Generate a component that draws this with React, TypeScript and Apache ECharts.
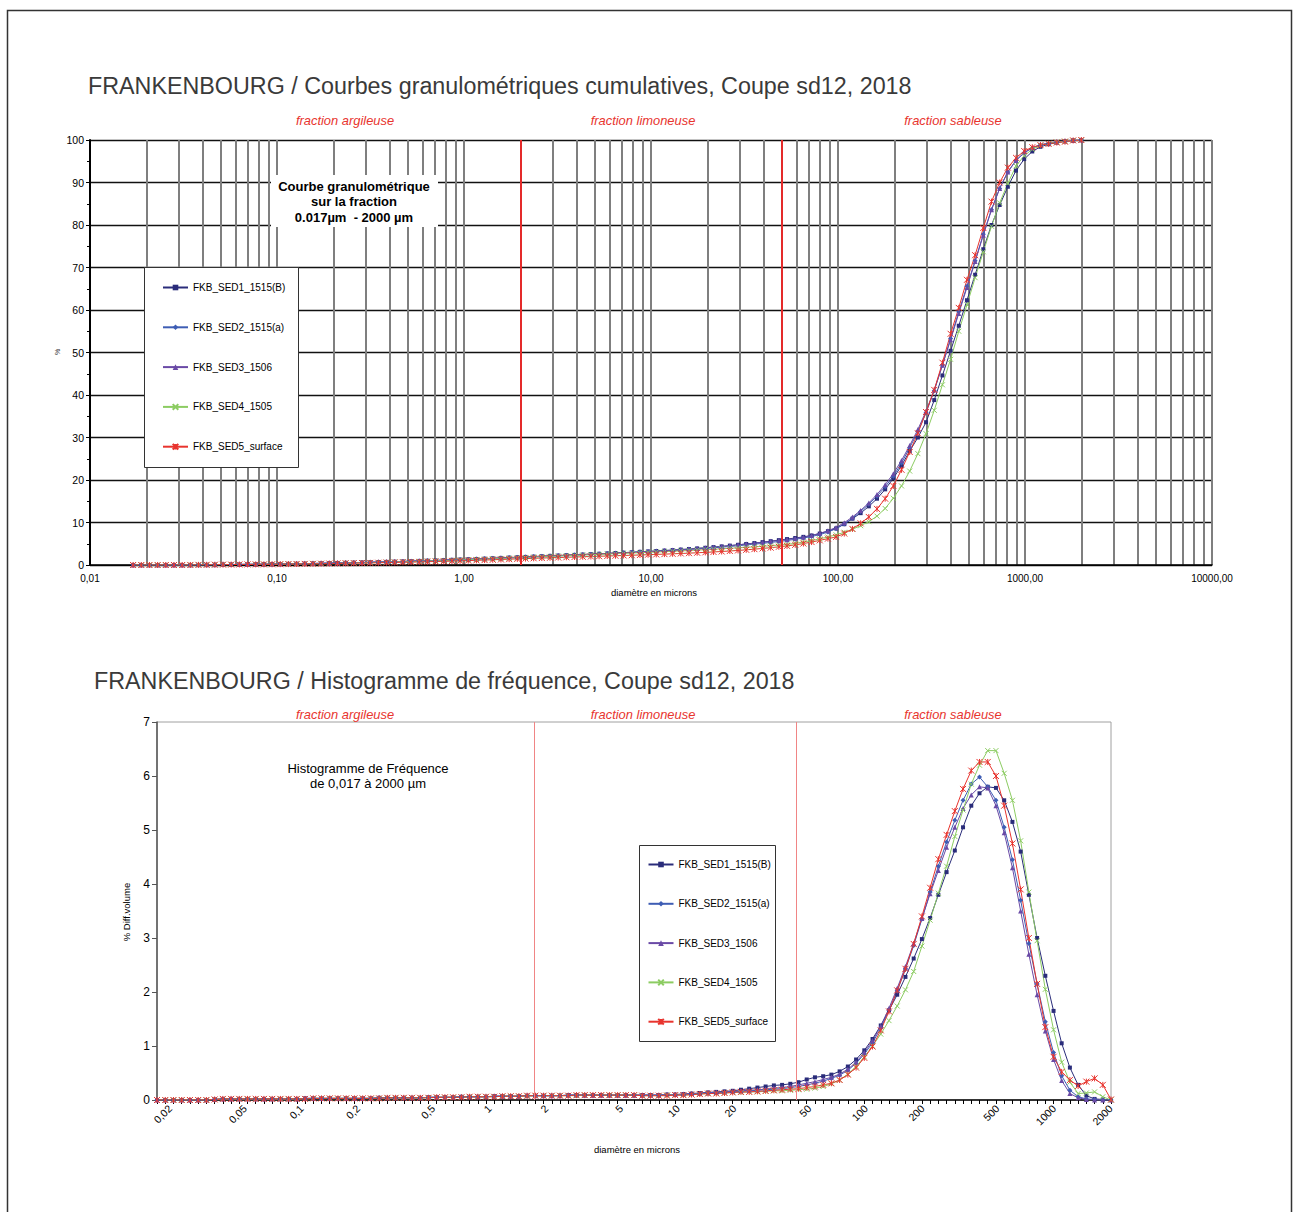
import React, { useEffect, useRef } from 'react';
import * as echarts from 'echarts';

const FONT = '"Liberation Sans", Arial, Helvetica, sans-serif';

const NAMES = ['FKB_SED1_1515(B)', 'FKB_SED2_1515(a)', 'FKB_SED3_1506', 'FKB_SED4_1505', 'FKB_SED5_surface'];
const COLORS = ['#2a2c7a', '#3e5db4', '#6a4aa6', '#8ccc62', '#e8342e'];

// particle-size classes (µm)
const BINS = [0.017, 0.0188, 0.02079, 0.023, 0.02543, 0.02812, 0.0311, 0.0344, 0.03804, 0.04207, 0.04652, 0.05145, 0.05689, 0.06292, 0.06958, 0.07695, 0.08511, 0.09409, 0.10406, 0.11508, 0.12728, 0.14076, 0.15567, 0.17216, 0.1904, 0.21057, 0.23287, 0.25754, 0.28483, 0.315, 0.34837, 0.38527, 0.42609, 0.47123, 0.52115, 0.57636, 0.63742, 0.70494, 0.77963, 0.86222, 0.95268, 1.0535, 1.1651, 1.2886, 1.4251, 1.5761, 1.7431, 1.9277, 2.132, 2.3578, 2.6076, 2.8839, 3.1894, 3.5273, 3.901, 4.3142, 4.7712, 5.2767, 5.8357, 6.454, 7.1378, 7.894, 8.7302, 9.6455, 10.667, 11.798, 13.048, 14.43, 15.959, 17.65, 19.52, 21.588, 23.876, 26.405, 29.202, 32.296, 35.718, 39.502, 43.652, 48.277, 53.392, 59.048, 65.305, 72.224, 79.876, 88.339, 97.68, 108.03, 119.48, 132.14, 146.14, 161.62, 178.75, 197.68, 218.63, 241.79, 267.41, 295.74, 327.08, 361.73, 400.05, 442.44, 489.32, 541.16, 598.5, 661.91, 732.04, 809.6, 895.38, 990.25, 1093.6, 1209.5, 1337.6, 1479.4, 1636.1, 1809.5, 2000];

// cumulative % (top chart)
const CUM_SED1 = [0, 0, 0, 0, 0, 0, 0, 0.01,
  0.03, 0.05, 0.07, 0.09, 0.11, 0.13, 0.15, 0.17, 0.19,
  0.21, 0.24, 0.27, 0.30, 0.33, 0.36, 0.40, 0.44,
  0.48, 0.52, 0.56, 0.60, 0.64, 0.69, 0.74, 0.79,
  0.84, 0.90, 0.96, 1.02, 1.08, 1.14, 1.21, 1.28,
  1.35, 1.42, 1.50, 1.58, 1.66, 1.74, 1.82, 1.90,
  1.98, 2.06, 2.14, 2.22, 2.30, 2.38, 2.46, 2.55,
  2.64, 2.73, 2.82, 2.91, 3.00, 3.09, 3.19,
  3.29, 3.40, 3.51, 3.63, 3.76, 3.90, 4.05,
  4.21, 4.38, 4.56, 4.75, 4.95, 5.16, 5.38, 5.61, 5.85, 6.10, 6.35,
  6.62, 6.95, 7.40, 7.95, 8.60, 9.60, 10.9, 12.2, 13.8, 15.6, 17.8, 20.4, 23.4, 26.8, 30.0, 33.6, 38.8, 44.6, 50.4, 56.3, 62.3, 68.3, 74.3, 80.0, 84.7, 89.0, 92.8, 95.5, 97.3, 98.4, 99.0, 99.4, 99.7, 99.9, 100];
const CUM_SED2 = [0, 0, 0, 0, 0, 0, 0, 0.01,
  0.03, 0.05, 0.07, 0.09, 0.11, 0.13, 0.14, 0.16, 0.18,
  0.20, 0.23, 0.26, 0.29, 0.32, 0.35, 0.39, 0.43,
  0.47, 0.51, 0.55, 0.59, 0.63, 0.68, 0.73, 0.78,
  0.83, 0.88, 0.94, 1.00, 1.06, 1.12, 1.18, 1.25,
  1.32, 1.39, 1.46, 1.54, 1.62, 1.70, 1.78, 1.86,
  1.94, 2.02, 2.10, 2.18, 2.26, 2.34, 2.42, 2.50,
  2.58, 2.67, 2.76, 2.85, 2.94, 3.03, 3.12,
  3.22, 3.32, 3.43, 3.54, 3.66, 3.78, 3.91,
  4.05, 4.20, 4.36, 4.53, 4.71, 4.90, 5.10, 5.31, 5.53, 5.78, 6.05,
  6.35, 6.70, 7.15, 7.75, 8.55, 9.65, 11.0, 12.6, 14.3, 16.2, 18.4, 20.9, 24.0, 27.6, 31.4, 35.8, 41.0, 47.0, 53.3, 59.6, 65.6, 71.6, 77.8, 83.6, 88.6, 92.5, 95.2, 97.0, 98.1, 98.8, 99.2, 99.5, 99.7, 99.9, 100];
const CUM_SED3 = [0, 0, 0, 0, 0, 0, 0, 0.01,
  0.03, 0.05, 0.07, 0.09, 0.11, 0.13, 0.15, 0.17, 0.19,
  0.21, 0.24, 0.27, 0.30, 0.33, 0.36, 0.40, 0.44,
  0.48, 0.52, 0.56, 0.60, 0.64, 0.69, 0.74, 0.79,
  0.84, 0.90, 0.96, 1.02, 1.08, 1.14, 1.21, 1.28,
  1.35, 1.42, 1.50, 1.58, 1.66, 1.74, 1.82, 1.90,
  1.98, 2.06, 2.14, 2.22, 2.30, 2.38, 2.46, 2.55,
  2.64, 2.73, 2.82, 2.91, 3.00, 3.09, 3.19,
  3.29, 3.40, 3.51, 3.63, 3.76, 3.90, 4.05,
  4.20, 4.37, 4.55, 4.74, 4.93, 5.13, 5.34, 5.56, 5.79, 6.00, 6.25,
  6.55, 6.95, 7.45, 8.05, 8.85, 9.95, 11.3, 12.85, 14.6, 16.6, 18.9, 21.5, 24.6, 28.1, 31.9, 36.2, 41.2, 47.0, 53.0, 59.2, 65.3, 71.4, 77.6, 83.6, 88.6, 92.5, 95.2, 97.0, 98.2, 98.9, 99.3, 99.6, 99.8, 99.9, 100];
const CUM_SED4 = [0, 0, 0, 0, 0, 0, 0, 0.01,
  0.03, 0.05, 0.07, 0.09, 0.10, 0.12, 0.13, 0.15, 0.16,
  0.18, 0.20, 0.23, 0.25, 0.28, 0.31, 0.34, 0.37,
  0.40, 0.44, 0.48, 0.52, 0.56, 0.60, 0.65, 0.70,
  0.75, 0.80, 0.86, 0.92, 0.98, 1.04, 1.10, 1.17,
  1.24, 1.31, 1.38, 1.45, 1.53, 1.61, 1.69, 1.77,
  1.85, 1.93, 2.01, 2.09, 2.17, 2.25, 2.33, 2.41,
  2.49, 2.57, 2.65, 2.73, 2.81, 2.89, 2.97,
  3.05, 3.13, 3.22, 3.31, 3.40, 3.50, 3.60,
  3.70, 3.81, 3.92, 4.03, 4.15, 4.27, 4.40, 4.54, 4.69, 4.85, 5.10,
  5.40, 5.75, 6.15, 6.60, 7.10, 7.70, 8.40, 9.25, 10.2, 11.5, 13.3, 15.7, 18.6, 22.1, 26.2, 30.9, 36.4, 42.4, 48.4, 55.0, 61.2, 67.6, 73.7, 79.7, 85.2, 89.8, 93.9, 96.3, 97.8, 98.7, 99.2, 99.5, 99.7, 99.9, 100];
const CUM_SED5 = [0, 0, 0, 0, 0, 0, 0, 0.01,
  0.03, 0.05, 0.07, 0.09, 0.10, 0.12, 0.13, 0.14, 0.15,
  0.17, 0.19, 0.21, 0.23, 0.26, 0.28, 0.31, 0.34,
  0.37, 0.40, 0.43, 0.46, 0.49, 0.52, 0.56, 0.60,
  0.64, 0.68, 0.72, 0.77, 0.82, 0.87, 0.92, 0.98,
  1.04, 1.10, 1.16, 1.23, 1.30, 1.37, 1.44, 1.51,
  1.58, 1.64, 1.70, 1.76, 1.82, 1.88, 1.94, 2.00,
  2.06, 2.12, 2.18, 2.24, 2.30, 2.36, 2.42,
  2.49, 2.56, 2.63, 2.71, 2.79, 2.88, 2.97,
  3.07, 3.18, 3.30, 3.43, 3.57, 3.73, 3.90, 4.08, 4.28, 4.50, 4.75,
  5.05, 5.40, 5.80, 6.20, 6.60, 7.40, 8.50, 9.80, 11.3, 13.2, 15.6, 18.6, 22.4, 26.6, 31.0, 36.0, 41.2, 47.6, 54.4, 60.5, 67.1, 72.9, 79.3, 85.5, 90.0, 93.5, 95.8, 97.4, 98.3, 98.8, 99.1, 99.4, 99.6, 99.9, 100];

// differential volume % (bottom chart)
const FREQ_SED1 = [0, 0, 0, 0, 0, 0, 0, 0.01,
  0.02, 0.02, 0.02, 0.02, 0.02, 0.02, 0.02, 0.02, 0.02,
  0.02, 0.03, 0.03, 0.03, 0.03, 0.03, 0.03, 0.03,
  0.03, 0.03, 0.04, 0.04, 0.04, 0.04, 0.04, 0.04,
  0.05, 0.05, 0.05, 0.05, 0.06, 0.06, 0.06, 0.06,
  0.07, 0.07, 0.07, 0.07, 0.08, 0.08, 0.08, 0.08,
  0.08, 0.09, 0.09, 0.09, 0.09, 0.09, 0.09, 0.09,
  0.09, 0.09, 0.09, 0.09, 0.09, 0.10, 0.10,
  0.11, 0.12, 0.13, 0.14, 0.15, 0.16, 0.17,
  0.19, 0.21, 0.23, 0.25, 0.27, 0.28, 0.30, 0.33, 0.38, 0.42, 0.44,
  0.47, 0.53, 0.62, 0.75, 0.92, 1.13, 1.38, 1.66, 1.95, 2.28, 2.62, 2.98, 3.37, 3.80, 4.22, 4.62, 5.05, 5.45, 5.68, 5.80, 5.78, 5.55, 5.15, 4.60, 3.80, 3.00, 2.30, 1.65, 1.05, 0.60, 0.28, 0.08, 0.02, 0.01, 0];
const FREQ_SED2 = [0, 0, 0, 0, 0, 0, 0, 0.01,
  0.02, 0.02, 0.02, 0.02, 0.02, 0.02, 0.02, 0.02, 0.02,
  0.02, 0.03, 0.03, 0.03, 0.03, 0.03, 0.03, 0.03,
  0.03, 0.03, 0.04, 0.04, 0.04, 0.04, 0.04, 0.04,
  0.05, 0.05, 0.05, 0.05, 0.06, 0.06, 0.06, 0.06,
  0.07, 0.07, 0.07, 0.07, 0.08, 0.08, 0.08, 0.08,
  0.08, 0.09, 0.09, 0.09, 0.09, 0.09, 0.09, 0.09,
  0.09, 0.09, 0.09, 0.09, 0.09, 0.10, 0.10,
  0.10, 0.11, 0.12, 0.13, 0.14, 0.14, 0.15,
  0.16, 0.17, 0.18, 0.19, 0.20, 0.21, 0.23, 0.25, 0.28, 0.31, 0.35,
  0.40, 0.46, 0.55, 0.68, 0.85, 1.06, 1.33, 1.66, 2.02, 2.42, 2.86, 3.35, 3.85, 4.33, 4.78, 5.18, 5.55, 5.85, 5.98, 5.80, 5.55, 5.05, 4.45, 3.70, 2.90, 2.15, 1.45, 0.88, 0.45, 0.18, 0.06, 0.02, 0.01, 0, 0];
const FREQ_SED3 = [0, 0, 0, 0, 0, 0, 0, 0.01,
  0.02, 0.02, 0.02, 0.02, 0.02, 0.02, 0.02, 0.02, 0.02,
  0.02, 0.03, 0.03, 0.03, 0.03, 0.03, 0.03, 0.03,
  0.03, 0.03, 0.04, 0.04, 0.04, 0.04, 0.04, 0.04,
  0.05, 0.05, 0.05, 0.05, 0.06, 0.06, 0.06, 0.06,
  0.07, 0.07, 0.07, 0.07, 0.08, 0.08, 0.08, 0.08,
  0.08, 0.09, 0.09, 0.09, 0.09, 0.09, 0.09, 0.09,
  0.09, 0.09, 0.09, 0.09, 0.09, 0.10, 0.10,
  0.11, 0.12, 0.12, 0.13, 0.14, 0.15, 0.16,
  0.17, 0.18, 0.19, 0.20, 0.22, 0.23, 0.25, 0.28, 0.31, 0.34, 0.38,
  0.42, 0.48, 0.57, 0.70, 0.88, 1.10, 1.37, 1.70, 2.07, 2.47, 2.90, 3.36, 3.82, 4.25, 4.68, 5.05, 5.40, 5.65, 5.80, 5.78, 5.45, 4.95, 4.30, 3.50, 2.70, 1.95, 1.28, 0.75, 0.36, 0.12, 0.04, 0.01, 0, 0, 0];
const FREQ_SED4 = [0, 0, 0, 0, 0, 0, 0, 0.01,
  0.02, 0.02, 0.02, 0.02, 0.02, 0.02, 0.02, 0.02, 0.02,
  0.02, 0.02, 0.03, 0.03, 0.03, 0.03, 0.03, 0.03,
  0.03, 0.03, 0.03, 0.04, 0.04, 0.04, 0.04, 0.04,
  0.04, 0.05, 0.05, 0.05, 0.05, 0.06, 0.06, 0.06,
  0.06, 0.07, 0.07, 0.07, 0.07, 0.08, 0.08, 0.08,
  0.08, 0.08, 0.08, 0.09, 0.09, 0.09, 0.09, 0.09,
  0.09, 0.09, 0.08, 0.08, 0.08, 0.09, 0.09,
  0.09, 0.10, 0.11, 0.12, 0.12, 0.13, 0.14,
  0.14, 0.15, 0.15, 0.16, 0.17, 0.17, 0.18, 0.19, 0.20, 0.22, 0.25,
  0.30, 0.37, 0.48, 0.62, 0.80, 1.00, 1.22, 1.47, 1.74, 2.04, 2.38, 2.85, 3.33, 3.83, 4.33, 4.88, 5.37, 5.85, 6.20, 6.47, 6.47, 6.05, 5.55, 4.80, 3.85, 2.95, 2.05, 1.30, 0.70, 0.33, 0.12, 0.13, 0.15, 0.06, 0];
const FREQ_SED5 = [0, 0, 0, 0, 0, 0, 0, 0.01,
  0.02, 0.02, 0.02, 0.02, 0.02, 0.02, 0.02, 0.02, 0.02,
  0.02, 0.02, 0.03, 0.03, 0.03, 0.03, 0.03, 0.03,
  0.03, 0.03, 0.03, 0.04, 0.04, 0.04, 0.04, 0.04,
  0.04, 0.05, 0.05, 0.05, 0.05, 0.06, 0.06, 0.06,
  0.06, 0.07, 0.07, 0.07, 0.08, 0.08, 0.08, 0.08,
  0.08, 0.08, 0.09, 0.09, 0.09, 0.09, 0.09, 0.09,
  0.09, 0.09, 0.08, 0.08, 0.08, 0.08, 0.09,
  0.09, 0.10, 0.11, 0.12, 0.12, 0.13, 0.14,
  0.15, 0.15, 0.16, 0.17, 0.18, 0.19, 0.20, 0.21, 0.23, 0.25, 0.28,
  0.31, 0.37, 0.47, 0.60, 0.78, 0.99, 1.29, 1.64, 2.03, 2.43, 2.89, 3.40, 3.93, 4.46, 4.91, 5.35, 5.76, 6.10, 6.26, 6.26, 6.00, 5.45, 4.75, 3.90, 3.00, 2.15, 1.35, 0.80, 0.52, 0.37, 0.26, 0.34, 0.40, 0.28, 0.01];

const CUMS = [CUM_SED1, CUM_SED2, CUM_SED3, CUM_SED4, CUM_SED5];
const FREQS = [FREQ_SED1, FREQ_SED2, FREQ_SED3, FREQ_SED4, FREQ_SED5];

const TOP_X_LABELS = [0.01, 0.1, 1, 10, 100, 1000, 10000];
const BOTTOM_X_LABELS = [0.02, 0.05, 0.1, 0.2, 0.5, 1, 2, 5, 10, 20, 50, 100, 200, 500, 1000, 2000];
const FRACTION_LABELS = ['fraction argileuse', 'fraction limoneuse', 'fraction sableuse'];
const TOP_LIMITS = [2, 50];
const BOTTOM_LIMITS = [1.72, 42.5];

const SYMBOLS = ['rect', 'diamond', 'triangle', 'path://M0,0L10,10M10,0L0,10', 'path://M0,0L10,10M10,0L0,10M5,0L5,10'];
const SYMBOL_SIZES = [4, 5, 5, 5, 6];

function pairs(xs: number[], ys: number[]) {
  const n = Math.min(xs.length, ys.length);
  const out: number[][] = [];
  for (let i = 0; i < n; i++) out.push([xs[i], ys[i]]);
  return out;
}

export default function App() {
  const ref = useRef<HTMLDivElement>(null);
  useEffect(() => {
    if (!ref.current) return;
    const chart = echarts.init(ref.current, null, { renderer: 'svg' });

    const gridX: number[] = [];
    for (let e = -2; e <= 3; e++) for (let m = 1; m <= 9; m++) gridX.push(+(m * Math.pow(10, e)).toPrecision(2));
    gridX.push(10000);

    const makeSeries = (k: number, top: boolean) => {
      const isX = k >= 3;
      return {
        type: 'line',
        name: NAMES[k],
        xAxisIndex: top ? 0 : 1,
        yAxisIndex: top ? 0 : 1,
        data: pairs(BINS, top ? CUMS[k] : FREQS[k]),
        symbol: SYMBOLS[k],
        symbolSize: SYMBOL_SIZES[k],
        showSymbol: true,
        showAllSymbol: true,
        lineStyle: { color: COLORS[k], width: 1 },
        itemStyle: { color: COLORS[k], borderColor: COLORS[k], borderWidth: isX ? 1 : 0 },
        emphasis: { disabled: true },
        silent: true,
        animation: false,
      } as any;
    };
    const series: any[] = [];
    for (let k = 0; k < 5; k++) series.push(makeSeries(k, true));
    for (let k = 0; k < 5; k++) series.push(makeSeries(k, false));
    series[4].markLine = {
      silent: true, symbol: ['none', 'none'], animation: false,
      label: { show: false },
      lineStyle: { color: '#e42a2a', width: 2, type: 'solid' },
      data: TOP_LIMITS.map((v) => ({ xAxis: v })),
    };
    series[9].markLine = {
      silent: true, symbol: ['none', 'none'], animation: false,
      label: { show: false },
      lineStyle: { color: '#f08585', width: 1, type: 'solid' },
      data: BOTTOM_LIMITS.map((v) => ({ xAxis: v })),
    };

    const txt = (text: string, x: number, y: number, size: number, opts: any = {}) => ({
      type: 'text',
      x, y,
      z: opts.z ?? 6,
      rotation: opts.rotation ?? 0,
      style: {
        text,
        fill: opts.color ?? '#000',
        fontSize: size,
        fontFamily: FONT,
        fontWeight: opts.weight ?? 'normal',
        fontStyle: opts.style ?? 'normal',
        align: opts.align ?? 'center',
        verticalAlign: 'middle',
        textAlign: opts.align ?? 'center',
        textVerticalAlign: 'middle',
      },
    });

    const fracX = [345, 643, 953];
    const graphics: any[] = [
      { type: 'rect', z: 0, shape: { x: 7.5, y: 10.5, width: 1284, height: 1220 }, style: { fill: 'none', stroke: '#333', lineWidth: 1.5 } },
      txt('FRANKENBOURG / Courbes granulométriques cumulatives, Coupe sd12, 2018', 88, 86, 23.3, { align: 'left', color: '#3a3a3a' }),
      txt('FRANKENBOURG / Histogramme de fréquence, Coupe sd12, 2018', 94, 681, 23.3, { align: 'left', color: '#3a3a3a' }),
      ...FRACTION_LABELS.map((t, i) => txt(t, fracX[i], 120, 12.9, { color: '#e8342e', style: 'italic' })),
      ...FRACTION_LABELS.map((t, i) => txt(t, fracX[i], 714, 12.9, { color: '#e8342e', style: 'italic' })),
      { type: 'rect', z: 5, shape: { x: 271, y: 175, width: 167, height: 52 }, style: { fill: '#fff', stroke: 'none' } },
      txt('Courbe granulométrique', 354, 186.5, 13, { weight: 'bold' }),
      txt('sur la fraction', 354, 201.5, 13, { weight: 'bold' }),
      txt('0.017µm  - 2000 µm', 354, 217.5, 13, { weight: 'bold' }),
      { type: 'rect', z: 5, shape: { x: 144.5, y: 267.5, width: 154, height: 200 }, style: { fill: '#fff', stroke: '#333', lineWidth: 1 } },
      { type: 'rect', z: 5, shape: { x: 639.5, y: 845.5, width: 136, height: 196 }, style: { fill: '#fff', stroke: '#333', lineWidth: 1 } },
      txt('diamètre en microns', 654, 592, 9.5),
      txt('diamètre en microns', 637, 1149, 9.5),
      txt('%', 57, 352, 7, { rotation: Math.PI / 2, color: '#333' }),
      txt('% Diff.volume', 126, 912, 9.5, { rotation: Math.PI / 2 }),
      txt('Histogramme de Fréquence', 368, 768, 13),
      txt('de 0,017 à 2000 µm', 368, 783, 13),
    ];

    const legendBase = {
      data: NAMES,
      orient: 'vertical',
      itemWidth: 25,
      itemHeight: 7,
      padding: 0,
      selectedMode: false,
      z: 10,
      textStyle: { fontSize: 10, fontFamily: FONT, color: '#000' },
    };

    const option: any = {
      animation: false,
      backgroundColor: '#fff',
      textStyle: { fontFamily: FONT },
      grid: [
        { left: 90, top: 140, width: 1122, height: 425, containLabel: false, outerBoundsMode: 'none' },
        { left: 157, top: 722, width: 954, height: 378, containLabel: false, outerBoundsMode: 'none', show: true, borderColor: '#a0a0a0', borderWidth: 1, backgroundColor: 'transparent' },
      ],
      legend: [
        { ...legendBase, left: 162, top: 282.5, itemGap: 29.8 },
        { ...legendBase, left: 647.5, top: 859.5, itemGap: 29.3 },
      ],
      xAxis: [
        {
          type: 'log', gridIndex: 0, logBase: 10, min: 0.01, max: 10000,
          axisLine: { show: true, lineStyle: { color: '#000', width: 1.5 } },
          axisTick: { show: false, customValues: gridX },
          splitLine: { show: true, lineStyle: { color: '#7f7f7f', width: 2 } },
          minorTick: { show: false },
          axisLabel: {
            customValues: TOP_X_LABELS, fontSize: 10, color: '#000', margin: 8, hideOverlap: false,
            showMinLabel: true, showMaxLabel: true,
            formatter: (v: number) => Number(v).toFixed(2).replace('.', ','),
          },
        },
        {
          type: 'log', gridIndex: 1, logBase: 10, min: 0.016995, max: 2000.2,
          axisLine: { show: true, lineStyle: { color: '#000', width: 1.5 } },
          axisTick: { show: true, customValues: BINS, length: 4, lineStyle: { color: '#000', width: 1 } },
          splitLine: { show: false },
          minorTick: { show: false },
          axisLabel: {
            customValues: BOTTOM_X_LABELS, rotate: 45, fontSize: 10.5, color: '#000', margin: 7, hideOverlap: false,
            showMinLabel: true, showMaxLabel: true,
            formatter: (v: number) => String(+Number(v).toPrecision(2)).replace('.', ','),
          },
        },
      ],
      yAxis: [
        {
          type: 'value', gridIndex: 0, min: 0, max: 100, interval: 10,
          axisLine: { show: true, lineStyle: { color: '#000', width: 2 } },
          axisTick: { show: true, length: 4, lineStyle: { color: '#000' } },
          minorTick: { show: true, splitNumber: 2, length: 3, lineStyle: { color: '#000' } },
          splitLine: { show: true, lineStyle: { color: '#111', width: 1.3 } },
          axisLabel: { fontSize: 10.5, color: '#000', margin: 6 },
        },
        {
          type: 'value', gridIndex: 1, min: 0, max: 7, interval: 1,
          axisLine: { show: true, lineStyle: { color: '#555', width: 1.5 } },
          axisTick: { show: true, length: 5, lineStyle: { color: '#555' } },
          splitLine: { show: false },
          axisLabel: { fontSize: 12, color: '#000', margin: 7 },
        },
      ],
      graphic: { elements: graphics },
      series,
    };

    chart.setOption(option);
    return () => chart.dispose();
  }, []);

  return <div ref={ref} style={{ position: 'absolute', left: 0, top: 0, width: 1293, height: 1212, background: '#fff' }} />;
}
